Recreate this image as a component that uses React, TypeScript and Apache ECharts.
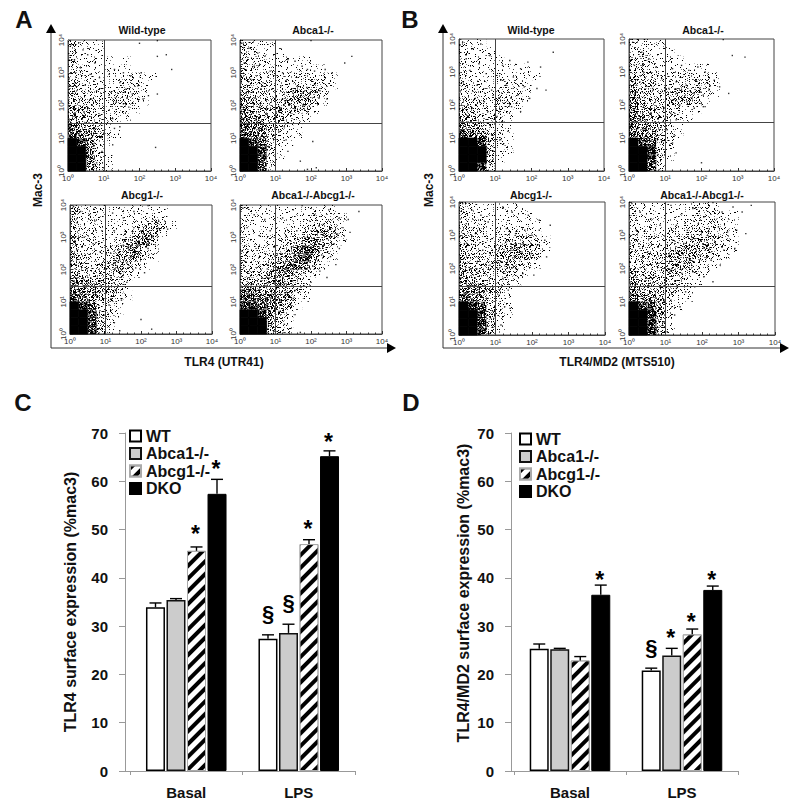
import React, { useEffect, useRef } from "react";
import * as echarts from "echarts";

const FONT = "'Liberation Sans', Arial, sans-serif";

// ---------- flow cytometry panels ----------
const decadeLabels = ["10⁰", "10¹", "10²", "10³", "10⁴"];
const gateX = 1.0; // log10 units
const gateY = 1.47;

// Density read by eye: one string per quarter decade of Mac-3 (top row is 10^3.75-10^4),
// one digit per quarter decade of TLR4, 0 = empty, 9 = solid black.
const densityAWT = ["311100000000","311100000000","311110100000","321111100000","322111221100","422212221000","432223321000","433223321000","543222210000","543321100000","654310000000","765421000000","985210000000","996200000000","996210000000","995210000000"];
const densityAAbca1 = ["321100000000","321110000000","322111110000","332211111100","432222222210","433222333210","533323554200","543334553100","644344431000","654443210000","665432100000","776321100000","987321000000","998310000000","998310000000","997200000000"];
const densityAAbcg1 = ["422211111110","312111111210","322111123431","322111235410","422212456300","422223563100","432235552100","432335421000","443344210000","654443100000","765443100000","765442100000","987321000000","998421000000","998420000000","998310000000"];
const densityADKO = ["211111111110","211111122222","211111123331","211112234542","211223456431","322234676320","322345785210","333456654100","333565431000","444554320000","665544310000","776655210000","887654100000","998642000000","999531000000","999432000000"];
const densityBWT = ["211000000000","211100000000","211110000000","211111110000","211121111000","322122210000","322232210000","332233210000","432232100000","543321000000","654311000000","765321000000","998421000000","999421000000","999410000000","998300000000"];
const densityBAbca1 = ["221100000000","221110000000","332111000000","332111111000","433222222100","433222333100","543334442100","543334431000","644332110000","654332100000","654421000000","765321000000","987320000000","998310000000","998310000000","997200000000"];
const densityBAbcg1 = ["321111100000","321111110000","322111111000","332122221000","332223332100","432234543100","433345443000","433345321000","543333210000","543332100000","665431000000","765321000000","987321000000","998421000000","998410000000","998310000000"];
const densityBDKO = ["211111122100","211111122211","212111222321","222122233221","322233344321","323234444321","333345543210","333344432100","433343321000","544333210000","544432100000","655421100000","987421000000","998510000000","998410000000","998310000000"];

// Individually visible events read by eye, [log10 TLR4, log10 Mac-3]
const pointsAWT = [[0.08,3.85],[0.3,3.92],[0.42,3.7],[0.18,3.4],[0.55,3.55],[0.75,3.3],[0.35,3.15],[0.62,2.95],[0.88,2.85],[0.2,2.7],[0.48,2.62],[0.8,2.45],[0.12,2.3],[0.66,2.2],[1.15,2.95],[1.3,3.1],[1.55,3.0],[1.75,2.9],[2.05,3.0],[2.5,3.5],[2.75,3.55],[2.9,3.1],[1.2,2.4],[1.45,2.7],[1.62,2.5],[1.8,2.35],[1.95,2.6],[2.1,2.2],[2.25,2.3],[2.5,2.35],[1.35,2.1],[1.55,2.05],[1.7,1.95],[1.15,1.85],[1.25,1.6],[1.3,1.3],[1.45,1.35],[1.25,0.8],[2.45,0.72],[2.0,3.9],[2.5,3.98],[0.9,1.7],[0.75,1.3],[0.6,1.0],[0.95,0.6],[0.8,0.25],[1.0,0.1]];
const pointsAAbca1 = [[0.05,3.9],[0.25,3.75],[0.5,3.6],[0.12,3.3],[0.4,3.2],[0.7,3.5],[0.85,3.05],[0.3,2.8],[0.65,2.7],[0.9,2.5],[1.2,3.0],[1.35,3.4],[1.55,3.35],[1.75,3.2],[1.9,3.1],[2.1,3.05],[2.4,3.1],[2.6,3.0],[2.95,3.3],[3.15,3.5],[1.15,2.6],[1.3,2.75],[1.5,2.45],[1.62,2.6],[1.78,2.4],[1.88,2.55],[1.98,2.35],[2.1,2.65],[2.25,2.45],[2.45,2.2],[1.2,2.2],[1.4,2.05],[1.55,1.9],[1.1,1.8],[1.2,1.55],[1.1,1.2],[1.25,1.35],[1.3,0.95],[1.35,0.6],[1.7,0.3],[2.05,0.9],[2.15,0.1],[1.9,0.05],[2.0,3.98],[0.95,1.1],[0.8,0.75],[0.65,0.3]];
const pointsAAbcg1 = [[0.1,3.95],[0.3,3.8],[0.55,3.7],[0.2,3.45],[0.7,3.5],[0.9,3.2],[0.4,3.0],[0.65,2.8],[0.85,2.55],[0.2,2.6],[1.2,3.75],[1.5,3.6],[1.8,3.8],[2.2,3.98],[2.5,3.5],[2.75,3.25],[1.25,3.2],[1.55,3.1],[1.8,3.3],[2.0,3.2],[2.15,3.35],[2.3,3.0],[2.45,3.05],[1.15,2.5],[1.35,2.6],[1.5,2.75],[1.7,2.7],[1.85,2.85],[2.05,2.8],[2.2,2.65],[1.2,2.15],[1.4,2.3],[1.6,2.2],[1.85,2.05],[2.1,1.9],[1.15,1.75],[1.3,1.35],[1.45,1.05],[1.1,0.9],[0.95,0.6],[1.25,0.35],[2.0,0.45],[2.3,0.15],[1.4,0.1],[0.8,0.15],[1.6,1.6]];
const pointsADKO = [[0.08,3.9],[0.4,3.7],[0.7,3.55],[0.2,3.3],[0.55,3.05],[0.85,3.2],[1.2,3.6],[1.5,3.85],[1.75,3.98],[2.1,3.7],[2.5,3.85],[2.8,3.6],[3.05,3.55],[3.35,3.8],[2.35,3.4],[2.55,3.25],[2.75,3.1],[2.9,3.3],[3.1,3.15],[1.3,3.05],[1.6,3.2],[1.9,3.0],[2.2,3.15],[2.45,2.95],[2.65,2.8],[2.8,2.65],[1.15,2.5],[1.45,2.7],[1.7,2.55],[2.0,2.65],[2.3,2.45],[2.55,2.4],[2.7,2.15],[1.2,2.05],[1.5,2.0],[1.8,1.9],[2.05,2.1],[2.25,1.95],[2.45,1.75],[1.25,1.55],[1.55,1.35],[1.8,1.5],[1.3,1.05],[1.5,1.1],[1.1,0.7],[1.25,0.3],[1.55,0.6],[0.95,0.1],[1.7,0.05],[2.0,1.6]];
const pointsBWT = [[0.1,3.9],[0.35,3.7],[0.6,3.85],[0.2,3.4],[0.55,3.25],[0.85,3.5],[0.3,3.05],[0.75,2.95],[0.12,2.7],[0.5,2.6],[0.9,2.45],[1.2,3.2],[1.4,3.35],[1.7,3.1],[1.9,3.3],[2.25,3.15],[2.6,3.6],[2.4,2.45],[2.15,2.5],[1.15,2.75],[1.3,2.6],[1.5,2.85],[1.62,2.3],[1.8,2.55],[1.95,2.2],[1.1,2.2],[1.25,2.05],[1.45,1.95],[1.7,1.8],[1.05,1.65],[1.2,1.5],[1.35,1.2],[1.15,0.95],[0.9,1.1],[0.95,0.6],[0.75,0.3],[0.8,1.8],[0.45,2.2],[0.7,2.1],[0.25,2.0],[1.0,0.15]];
const pointsBAbca1 = [[0.1,3.9],[0.35,3.6],[0.55,3.4],[0.15,3.2],[0.4,3.0],[0.75,3.15],[0.9,2.8],[0.3,2.7],[0.65,2.5],[2.6,3.98],[2.85,3.5],[3.2,3.45],[1.2,3.1],[1.45,3.2],[1.65,3.05],[1.9,3.15],[2.1,3.0],[2.35,2.75],[2.5,2.55],[2.75,2.35],[1.1,2.5],[1.3,2.7],[1.45,2.45],[1.58,2.6],[1.7,2.4],[1.85,2.75],[1.95,2.5],[2.05,2.3],[2.2,2.45],[1.2,2.15],[1.4,2.0],[1.6,2.1],[1.8,1.9],[2.05,1.95],[2.1,1.95],[1.15,1.75],[1.3,1.55],[1.05,1.25],[1.25,1.1],[1.2,0.85],[1.3,0.55],[2.0,0.25],[0.9,0.9],[0.8,0.5],[0.65,0.2]];
const pointsBAbcg1 = [[0.1,3.95],[0.35,3.75],[0.6,3.6],[0.2,3.35],[0.8,3.4],[0.45,3.05],[0.9,2.9],[0.15,2.75],[0.65,2.55],[1.2,3.85],[1.45,3.7],[1.9,3.6],[2.2,3.45],[2.5,3.3],[1.3,3.2],[1.55,3.05],[1.8,3.15],[2.0,3.0],[2.2,3.15],[2.35,2.85],[1.1,2.6],[1.28,2.8],[1.42,2.55],[1.55,2.75],[1.7,2.5],[1.85,2.7],[1.98,2.45],[2.15,2.7],[2.4,2.35],[1.15,2.2],[1.35,2.1],[1.55,2.0],[1.75,1.85],[2.05,1.8],[1.2,1.7],[1.35,1.35],[1.1,1.2],[1.25,0.85],[1.4,0.8],[0.95,0.5],[0.75,0.2],[1.15,0.3],[0.8,1.1],[0.5,2.2],[0.85,2.1]];
const pointsBDKO = [[0.08,3.95],[0.3,3.7],[0.6,3.5],[0.85,3.3],[0.2,3.15],[0.55,2.9],[1.15,3.9],[1.45,3.65],[1.75,3.8],[2.05,3.55],[2.3,3.98],[2.55,3.7],[2.85,3.85],[3.1,3.7],[3.35,3.9],[1.3,3.3],[1.6,3.15],[1.9,3.35],[2.2,3.2],[2.45,3.25],[2.7,3.1],[2.95,3.15],[3.2,3.05],[1.2,2.85],[1.5,2.75],[1.8,2.9],[2.1,2.7],[2.35,2.8],[2.6,2.55],[2.9,2.6],[1.1,2.4],[1.35,2.5],[1.65,2.3],[1.95,2.4],[2.25,2.25],[2.5,2.1],[1.15,1.95],[1.45,1.85],[1.75,1.9],[2.05,1.75],[2.3,1.6],[1.3,1.4],[1.55,1.3],[1.8,1.45],[1.15,1.05],[1.4,0.85],[1.25,0.6],[0.95,0.4],[0.75,0.15],[1.05,0.1]];

// ---------- bar panels ----------
const groups = ["Basal", "LPS"];
const genotypes = ["WT", "Abca1-/-", "Abcg1-/-", "DKO"];
const tlr4Means = [[33.9, 27.4], [35.4, 28.6], [45.6, 47.0], [57.4, 65.2]];
const tlr4ErrorTops = [[34.8, 28.2], [35.7, 30.4], [46.4, 47.9], [60.4, 66.3]];
const md2Means = [[25.3, 20.8], [25.2, 23.9], [22.9, 28.3], [36.5, 37.5]];
const md2ErrorTops = [[26.3, 21.3], [25.4, 25.4], [23.7, 29.4], [38.5, 38.3]];
// [group index, genotype index, height on the value axis, mark]
const tlr4Marks: [number, number, number, string][] = [[0, 2, 50, "*"], [0, 3, 63.4, "*"], [1, 0, 32.7, "§"], [1, 1, 35, "§"], [1, 2, 50.9, "*"], [1, 3, 69, "*"]];
const md2Marks: [number, number, number, string][] = [[0, 3, 40.4, "*"], [1, 0, 25.5, "§"], [1, 1, 28.4, "*"], [1, 2, 31.7, "*"], [1, 3, 40.4, "*"]];

const flowPanels = [
  { l: 68, r: 211, t: 40, b: 171, d: densityAWT, p: pointsAWT, title: "Wild-type", tx: 142, ty: 30 },
  { l: 240, r: 382, t: 40, b: 171, d: densityAAbca1, p: pointsAAbca1, title: "Abca1-/-", tx: 313, ty: 30 },
  { l: 70, r: 212, t: 205, b: 334, d: densityAAbcg1, p: pointsAAbcg1, title: "Abcg1-/-", tx: 142, ty: 195 },
  { l: 240, r: 382, t: 205, b: 334, d: densityADKO, p: pointsADKO, title: "Abca1-/-Abcg1-/-", tx: 313, ty: 195 },
  { l: 459, r: 604, t: 39, b: 171, d: densityBWT, p: pointsBWT, title: "Wild-type", tx: 531, ty: 30 },
  { l: 629, r: 774, t: 39, b: 171, d: densityBAbca1, p: pointsBAbca1, title: "Abca1-/-", tx: 703, ty: 30 },
  { l: 459, r: 605, t: 202, b: 335, d: densityBAbcg1, p: pointsBAbcg1, title: "Abcg1-/-", tx: 531, ty: 195 },
  { l: 629, r: 775, t: 202, b: 335, d: densityBDKO, p: pointsBDKO, title: "Abca1-/-Abcg1-/-", tx: 702, ty: 195 },
];

// axisX is where the value axis sits; l..r is the band range of the two groups
const barPanels = [
  { axisX: 125, l: 130, r: 355, means: tlr4Means, tops: tlr4ErrorTops, marks: tlr4Marks, name: "TLR4 surface expression (%mac3)", nameSize: 16, gap: 47, pad: [0, 0, 0, 0], legendLeft: 129, legendTop: 428 },
  { axisX: 511, l: 514, r: 738, means: md2Means, tops: md2ErrorTops, marks: md2Marks, name: "TLR4/MD2 surface expression (%mac3)", nameSize: 16, gap: 40, pad: [0, 0, 0, 18], legendLeft: 519, legendTop: 431 },
];

const barPitch = 20.5;
const barFills = [
  { color: "#fff", borderColor: "#000", borderWidth: 1.5 },
  { color: "#cccccc", borderColor: "#111", borderWidth: 1.5 },
  {
    color: "#fff", borderColor: "#aaa", borderWidth: 1,
    decal: { symbol: "rect", symbolSize: 1, color: "#000", backgroundColor: "#fff", dashArrayX: [1, 0], dashArrayY: [4, 5], rotation: -Math.PI / 4 },
  },
  { color: "#000", borderColor: "#000", borderWidth: 1 },
];

// Fill texture for one density digit: a stipple swatch, shared by every density cell of that digit.
const stippleCoverage = [0, 0.09, 0.17, 0.26, 0.36, 0.47, 0.6, 0.74, 0.9];
const stippleTile = 64;
function makeStipples() {
  return stippleCoverage.map((c) => {
    const canvas = document.createElement("canvas");
    canvas.width = canvas.height = stippleTile;
    const ctx = canvas.getContext("2d")!;
    const n = Math.round(-Math.log(1 - c) * stippleTile * stippleTile);
    for (let i = 1; i <= n; i++) {
      const wobbleX = ((i * i * 0.0137) % 1) * 6;
      const wobbleY = ((i * i * 0.0091) % 1) * 6;
      const x = Math.floor(((i * 0.7548776662) % 1) * stippleTile + wobbleX) % stippleTile;
      const y = Math.floor(((i * 0.5698402910) % 1) * stippleTile + wobbleY) % stippleTile;
      ctx.fillStyle = i % 3 === 0 ? "#777" : "#000";
      ctx.fillRect(x, y, 1, 1);
    }
    return { image: canvas, repeat: "repeat", imageWidth: stippleTile, imageHeight: stippleTile };
  });
}

function densityCells(rows: string[]) {
  const cells: number[][] = [];
  rows.forEach((row, r) => {
    row.split("").forEach((ch, c) => {
      const d = Number(ch);
      if (d) cells.push([c * 0.25, 4 - (r + 1) * 0.25, (c + 1) * 0.25, 4 - r * 0.25, d]);
    });
  });
  return cells;
}

function buildOption() {
  const stipples = makeStipples();
  const grid: any[] = [];
  const xAxis: any[] = [];
  const yAxis: any[] = [];
  const series: any[] = [];
  const legend: any[] = [];
  const graphic: any[] = [];
  const bold = (size: number) => `bold ${size}px ${FONT}`;

  const addText = (text: string, x: number, y: number, size: number, rotation = 0) =>
    graphic.push({ type: "text", x, y, rotation, silent: true, style: { text, font: bold(size), fill: "#111", textAlign: "center", textVerticalAlign: "middle" } });

  flowPanels.forEach((p, i) => {
    grid.push({ left: p.l, top: p.t, width: p.r - p.l, height: p.b - p.t, show: true, borderColor: "#444", borderWidth: 1, backgroundColor: "#fff" });
    const common = {
      gridIndex: i, type: "value", min: 0, max: 4, interval: 1,
      splitLine: { show: false },
      axisLine: { show: true, lineStyle: { color: "#444", width: 1 } },
      axisTick: { show: true, inside: true, length: 3, lineStyle: { color: "#333" } },
      minorTick: { show: true, splitNumber: 5, length: 1.5, lineStyle: { color: "#333" } },
    };
    const labelOf = (v: number) => decadeLabels[v];
    xAxis.push({ ...common, axisLabel: { formatter: labelOf, fontSize: 8, color: "#333", margin: 3, fontFamily: FONT } });
    yAxis.push({ ...common, axisLabel: { formatter: labelOf, fontSize: 8, color: "#333", margin: 3, rotate: 90, fontFamily: FONT } });
    series.push({
      type: "custom", xAxisIndex: i, yAxisIndex: i, silent: true, z: 2,
      data: densityCells(p.d), encode: { x: [0, 2], y: [1, 3] },
      renderItem: (_: any, api: any) => {
        const a = api.coord([api.value(0), api.value(3)]);
        const b = api.coord([api.value(2), api.value(1)]);
        const d = api.value(4);
        return {
          type: "rect",
          shape: { x: a[0], y: a[1], width: b[0] - a[0], height: b[1] - a[1] },
          style: d >= 9 ? { fill: "#000", stroke: "#000", lineWidth: 0.8 } : { fill: stipples[d] },
        };
      },
    });
    series.push({
      type: "scatter", xAxisIndex: i, yAxisIndex: i, symbol: "rect", symbolSize: 1.4,
      itemStyle: { color: "#000" }, data: p.p, silent: true, z: 3,
      markLine: {
        silent: true, symbol: "none", label: { show: false }, animation: false, z: 4,
        lineStyle: { color: "#444", width: 1, type: "solid" },
        data: [{ xAxis: gateX }, { yAxis: gateY }],
      },
    });
    addText(p.title, p.tx, p.ty, 10.5);
  });

  barPanels.forEach((p, k) => {
    const g = flowPanels.length + k;
    grid.push({ left: p.l, top: 433, width: p.r - p.l, height: 338 });
    xAxis.push({
      gridIndex: g, type: "category", data: groups,
      axisLine: { lineStyle: { color: "#999", width: 1 } },
      axisTick: { show: true, length: 4, lineStyle: { color: "#999" } },
      axisLabel: { fontFamily: FONT, fontWeight: "bold", fontSize: 15, color: "#111", margin: 14 },
    });
    yAxis.push({
      gridIndex: g, type: "value", min: 0, max: 70, interval: 10, offset: p.l - p.axisX,
      splitLine: { show: false },
      axisLine: { show: true, lineStyle: { color: "#999", width: 1 } },
      axisTick: { show: true, length: 6, lineStyle: { color: "#999" } },
      axisLabel: { fontFamily: FONT, fontWeight: "bold", fontSize: 15, color: "#111", margin: 17 },
      name: p.name, nameLocation: "middle", nameGap: p.gap, nameRotate: 90, nameMoveOverlap: false,
      nameTextStyle: { fontFamily: FONT, fontWeight: "bold", fontSize: p.nameSize, color: "#111", padding: p.pad },
    });
    graphic.push({ type: "line", silent: true, shape: { x1: p.axisX, y1: 771.5, x2: p.l, y2: 771.5 }, style: { stroke: "#999", lineWidth: 1 } });
    genotypes.forEach((name, s) => {
      series.push({
        type: "bar", name, xAxisIndex: g, yAxisIndex: g, barWidth: 19, barGap: "8%",
        itemStyle: barFills[s], data: p.means[s], silent: true, z: 3,
      });
      series.push({
        type: "custom", name: name + " error", xAxisIndex: g, yAxisIndex: g, silent: true, z: 4, clip: false,
        data: p.means[s].map((m, c) => [c, m, p.tops[s][c]]),
        encode: { x: 0, y: [1, 2] },
        renderItem: (_: any, api: any) => {
          const base = api.coord([api.value(0), api.value(1)]);
          const top = api.coord([api.value(0), api.value(2)]);
          const x = base[0] + (s - 1.5) * barPitch;
          const lineStyle = { stroke: "#000", lineWidth: 1.4 };
          return {
            type: "group",
            children: [
              { type: "line", shape: { x1: x, y1: base[1], x2: x, y2: top[1] }, style: lineStyle },
              { type: "line", shape: { x1: x - 6, y1: top[1], x2: x + 6, y2: top[1] }, style: lineStyle },
            ],
          };
        },
      });
    });
    series.push({
      type: "custom", name: "significance", xAxisIndex: g, yAxisIndex: g, silent: true, z: 5, clip: false,
      data: p.marks.map((m) => [m[0], m[2]]),
      encode: { x: 0, y: 1 },
      renderItem: (params: any, api: any) => {
        const m = p.marks[params.dataIndex];
        const pt = api.coord([api.value(0), api.value(1)]);
        const star = m[3] === "*";
        return {
          type: "text",
          style: {
            x: pt[0] + (m[1] - 1.5) * barPitch - (star ? 1 : 0),
            y: pt[1] + (star ? 4 : 0),
            text: m[3], textAlign: "center", textVerticalAlign: "middle",
            font: `bold ${star ? 23 : 22}px ${FONT}`, fill: "#000",
          },
        };
      },
    });
    legend.push({
      left: p.legendLeft, top: p.legendTop, orient: "vertical", itemWidth: 11, itemHeight: 11, itemGap: 1.5, icon: "rect",
      data: genotypes, selectedMode: false, padding: 0,
      textStyle: { fontFamily: FONT, fontWeight: "bold", fontSize: 16, color: "#111", lineHeight: 14 },
    });
  });

  // panel letters
  addText("A", 24, 19, 24);
  addText("B", 410, 19, 24);
  addText("C", 23, 402, 24);
  addText("D", 411, 402, 24);
  // outer flow axes of A and B
  [
    { x: 51, end: 387, xname: "TLR4 (UTR41)", xc: 224, mac: 38 },
    { x: 443, end: 780, xname: "TLR4/MD2 (MTS510)", xc: 617, mac: 429 },
  ].forEach((o) => {
    graphic.push({ type: "polyline", silent: true, shape: { points: [[o.x, 33], [o.x, 348], [o.end, 348]] }, style: { stroke: "#333", lineWidth: 1, fill: "none" } });
    graphic.push({ type: "polygon", silent: true, shape: { points: [[o.x, 24], [o.x - 5, 33], [o.x + 5, 33]] }, style: { fill: "#000" } });
    graphic.push({ type: "polygon", silent: true, shape: { points: [[o.end + 9, 348], [o.end, 343], [o.end, 353]] }, style: { fill: "#000" } });
    addText(o.xname, o.xc, 362, 12);
    addText("Mac-3", o.mac, 190, 12, Math.PI / 2);
  });

  return { animation: false, backgroundColor: "#fff", grid, xAxis, yAxis, series, legend, graphic };
}

export default function App() {
  const ref = useRef<HTMLDivElement>(null);
  useEffect(() => {
    const chart = echarts.init(ref.current!, undefined, { renderer: "svg" });
    chart.setOption(buildOption());
    return () => chart.dispose();
  }, []);
  return <div ref={ref} style={{ position: "absolute", left: 0, top: 0, width: 800, height: 807 }} />;
}
